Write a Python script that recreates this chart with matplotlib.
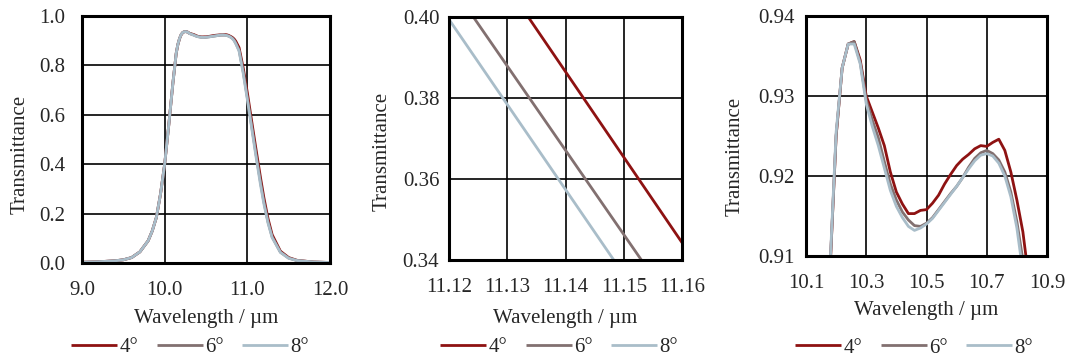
import matplotlib
matplotlib.use("Agg")
import matplotlib.pyplot as plt
import numpy as np

plt.rcParams['font.family'] = ['Liberation Serif', 'DejaVu Serif']

# ---------------- data ----------------
wavelength = [9.0, 9.2, 9.4, 9.5, 9.6, 9.7, 9.8, 9.85, 9.9, 9.95, 10.0, 10.05, 10.1, 10.12, 10.14,
              10.16, 10.18, 10.20, 10.22, 10.24, 10.26, 10.28, 10.30, 10.32, 10.34, 10.36, 10.38,
              10.40, 10.42, 10.44, 10.46, 10.48, 10.50, 10.52, 10.54, 10.56, 10.58, 10.60, 10.62,
              10.64, 10.66, 10.68, 10.70, 10.72, 10.74, 10.76, 10.78, 10.80, 10.82, 10.84, 10.86,
              10.9, 10.95, 11.0, 11.05, 11.1, 11.12, 11.13, 11.14, 11.15, 11.16, 11.2, 11.25, 11.3,
              11.4, 11.5, 11.6, 11.8, 12.0]

t_4deg = [0.003, 0.005, 0.009, 0.013, 0.022, 0.045, 0.09, 0.13, 0.185, 0.28, 0.40, 0.56, 0.73, 0.79, 0.85,
          0.885, 0.9085, 0.925, 0.9335, 0.9365, 0.9368, 0.9345, 0.930, 0.928, 0.926, 0.9238, 0.9205,
          0.918, 0.9165, 0.9153, 0.9153, 0.9157, 0.9158, 0.9166, 0.9176, 0.919, 0.9202, 0.9213, 0.9221,
          0.9227, 0.9234, 0.9238, 0.9237, 0.9242, 0.9246, 0.9232, 0.9205, 0.917, 0.913, 0.907, 0.898,
          0.872, 0.79, 0.69, 0.58, 0.471, 0.4287, 0.4076, 0.3865, 0.3654, 0.3443, 0.265, 0.18, 0.115,
          0.048, 0.022, 0.011, 0.004, 0.002]

t_6deg = [0.003, 0.005, 0.009, 0.013, 0.022, 0.045, 0.09, 0.13, 0.185, 0.28, 0.40, 0.56, 0.73, 0.79, 0.85,
          0.885, 0.9085, 0.925, 0.9335, 0.9365, 0.9368, 0.9342, 0.9295, 0.927, 0.9248, 0.9218, 0.919,
          0.917, 0.9155, 0.9145, 0.9138, 0.9137, 0.9141, 0.9148, 0.9158, 0.9168, 0.9178, 0.9187, 0.9198,
          0.9211, 0.9222, 0.9229, 0.9232, 0.9228, 0.922, 0.9205, 0.918, 0.9143, 0.9095, 0.902, 0.89,
          0.862, 0.775, 0.67, 0.56, 0.451, 0.4087, 0.3879, 0.3671, 0.3463, 0.3255, 0.248, 0.167, 0.106,
          0.044, 0.020, 0.010, 0.004, 0.002]

t_8deg = [0.003, 0.005, 0.009, 0.013, 0.022, 0.045, 0.09, 0.13, 0.185, 0.28, 0.40, 0.56, 0.73, 0.79, 0.85,
          0.886, 0.909, 0.9255, 0.9335, 0.9365, 0.9365, 0.934, 0.929, 0.9262, 0.9238, 0.921, 0.9182,
          0.9162, 0.9148, 0.9137, 0.9132, 0.9135, 0.914, 0.9147, 0.9157, 0.9167, 0.9177, 0.9187, 0.9198,
          0.9209, 0.9219, 0.9226, 0.9228, 0.9225, 0.9216, 0.920, 0.9174, 0.9135, 0.908, 0.900, 0.888,
          0.858, 0.768, 0.662, 0.552, 0.441, 0.3994, 0.3784, 0.3574, 0.3364, 0.3154, 0.240, 0.162, 0.103,
          0.043, 0.019, 0.010, 0.004, 0.002]

series_labels = ['4°', '6°', '8°']
series_colors = ['#8E1212', '#827070', '#A9BDC9']

panel_xlim = [(9.0, 12.0), (11.12, 11.16), (10.1, 10.9)]
panel_ylim = [(0.0, 1.0), (0.34, 0.40), (0.91, 0.94)]
panel_xticks = [[9.0, 10.0, 11.0, 12.0], [11.12, 11.13, 11.14, 11.15, 11.16], [10.1, 10.3, 10.5, 10.7, 10.9]]
panel_yticks = [[0.0, 0.2, 0.4, 0.6, 0.8, 1.0], [0.34, 0.36, 0.38, 0.40], [0.91, 0.92, 0.93, 0.94]]
panel_xfmt = ['{:.1f}', '{:.2f}', '{:.1f}']
panel_yfmt = ['{:.1f}', '{:.2f}', '{:.2f}']

# ---------------- layout ----------------
W, H = 1067, 357
fig = plt.figure(figsize=(W / 100, H / 100), dpi=100)

# axes boxes in pixels: left, top, right, bottom
boxes = [(82, 16, 330, 263), (449, 17, 682, 260), (806, 16, 1047, 256)]
ylabel_x = [20, 382, 735]
ylabel_y = [154, 151, 156]
xlabel_y = [318, 318, 310]
legend_cx = [190, 559, 914]
legend_cy = [347, 347, 348]
ypads = [12, 7, 8]

fs = 15
tcol = '#262626'
series = [t_4deg, t_6deg, t_8deg]

for i in range(3):
    l, t, r, b = boxes[i]
    ax = fig.add_axes([l / W, 1 - b / H, (r - l) / W, (b - t) / H])
    lines = []
    for ys, lab, col in zip(series, series_labels, series_colors):
        ln, = ax.plot(wavelength, ys, color=col, lw=2.0, label=lab, solid_capstyle='butt')
        lines.append(ln)
    ax.set_xlim(*panel_xlim[i])
    ax.set_ylim(*panel_ylim[i])
    ax.set_xticks(panel_xticks[i])
    ax.set_yticks(panel_yticks[i])
    ax.set_xticklabels([panel_xfmt[i].format(v) for v in panel_xticks[i]])
    ax.set_yticklabels([panel_yfmt[i].format(v) for v in panel_yticks[i]])
    ax.tick_params(length=0, labelsize=fs, pad=13, axis='x', labelcolor=tcol)
    ax.tick_params(length=0, labelsize=fs, pad=ypads[i], axis='y', labelcolor=tcol)
    ax.grid(True, color='black', lw=1.2)
    ax.set_axisbelow(True)
    for s in ax.spines.values():
        s.set_linewidth(2.2)
        s.set_color('black')
    ax.set_ylabel('Transmittance', fontsize=fs, color=tcol)
    ax.yaxis.set_label_coords((ylabel_x[i] - l) / (r - l), (b - ylabel_y[i]) / (b - t))
    ax.yaxis.label.set_verticalalignment('center')
    ax.set_xlabel('Wavelength / µm', fontsize=fs, color=tcol)
    ax.xaxis.set_label_coords(0.5, (b - xlabel_y[i]) / (b - t))
    ax.xaxis.label.set_verticalalignment('center')
    leg = fig.legend(handles=lines, loc='center', bbox_to_anchor=(legend_cx[i] / W, 1 - legend_cy[i] / H),
                     ncol=3, frameon=False, fontsize=fs, handlelength=2.2, handletextpad=0.1,
                     columnspacing=0.9, borderaxespad=0, borderpad=0)
    for txt in leg.get_texts():
        txt.set_color(tcol)

fig.savefig('out.png', dpi=100)
